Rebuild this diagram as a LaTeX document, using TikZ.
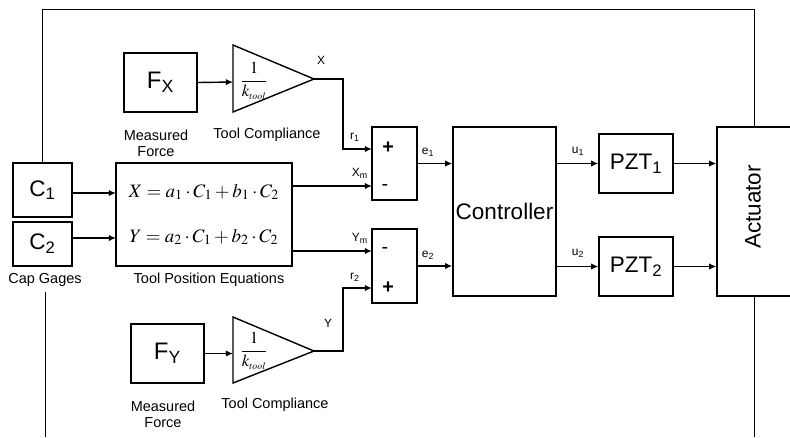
\documentclass[tikz,border=0pt]{standalone}
\usepackage{mathptmx}
\usepackage[no-math]{fontspec}
\setmainfont{Liberation Sans}
\usetikzlibrary{arrows.meta,calc}

\tikzset{
  blk/.style={draw,line width=1pt,inner sep=0pt,font=\fontsize{16}{19}\selectfont},
  sig/.style={line width=1pt,-{Latex[length=0.18cm,width=0.16cm]}},
  fb/.style={line width=0.5pt},
  desc/.style={align=center,font=\fontsize{10.3}{11.4}\selectfont},
  sml/.style={font=\fontsize{8.5}{10}\selectfont,inner sep=0pt},
  sgn/.style={font=\fontsize{14}{16}\selectfont,inner sep=0pt}
}

\begin{document}
\begin{tikzpicture}[x=0.025cm,y=-0.025cm]
\useasboundingbox (0,0) rectangle (790,437);

	% cap gages and equations
	\node[blk,minimum width=1.475cm,minimum height=1.35cm] (C1) at (42.5,190) {C\textsubscript{1}};
	\node[blk,minimum width=1.475cm,minimum height=1.1cm] (C2) at (42.5,244) {C\textsubscript{2}};
	\node[desc] (capg) at (45,280) {Cap Gages};
	\node[blk,minimum width=4.4cm,minimum height=2.575cm,align=center,font=\fontsize{13.5}{32}\selectfont] (eq) at (204,214.5)
		{$X = a_1\cdot C_1 + b_1\cdot C_2$\\$Y = a_2\cdot C_1 + b_2\cdot C_2$};
	\node[desc] (tpe) at (209,280) {Tool Position Equations};
	\coordinate (eqX) at (116,193);
	\coordinate (eqY) at (116,238);
	\draw[sig] (C1.east |- eqX) -- (eqX);
	\draw[sig] (C2.east |- eqY) -- (eqY);

	% force X path
	\node[blk,minimum width=1.825cm,minimum height=1.475cm,font=\fontsize{17}{20}\selectfont] (FX) at (160.5,82.5) {F\textsubscript{X}};
	\node[desc] (mf1) at (156,143) {Measured\\Force};
	\draw[line width=1pt] (233,45) -- (314,79) -- (233,112) -- cycle;
	\coordinate (t1in) at (233,82);
	\coordinate (t1out) at (314,79);
	\node[font=\fontsize{12}{14}\selectfont] (k1) at (254,81) {$\displaystyle\frac{1}{k_{\scriptscriptstyle tool}}$};
	\node[desc] (tc1) at (267,135) {Tool Compliance};
	\draw[sig] (FX.east) -- (t1in);

	% force Y path
	\node[blk,minimum width=1.825cm,minimum height=1.475cm,font=\fontsize{17}{20}\selectfont] (FY) at (167.5,353.5) {F\textsubscript{Y}};
	\node[desc] (mf2) at (163,414) {Measured\\Force};
	\draw[line width=1pt] (233,317) -- (314,351) -- (233,383) -- cycle;
	\coordinate (t2in) at (233,353.5);
	\coordinate (t2out) at (314,351);
	\node[font=\fontsize{12}{14}\selectfont] (k2) at (254,351) {$\displaystyle\frac{1}{k_{\scriptscriptstyle tool}}$};
	\node[desc] (tc2) at (275,405) {Tool Compliance};
	\draw[sig] (FY.east) -- (t2in);

	% summing junctions
	\node[blk,minimum width=1.125cm,minimum height=1.825cm] (s1) at (394.5,163.5) {};
	\node[blk,minimum width=1.125cm,minimum height=1.85cm] (s2) at (394.5,266) {};
	\node[sgn] (p1) at (388,148) {\textbf{+}};
	\node[sgn] (m1) at (385,187) {-};
	\node[sgn] (m2) at (385,250) {-};
	\node[sgn] (p2) at (388,288) {\textbf{+}};
	\coordinate (s1a) at (372,149);
	\coordinate (s1b) at (372,186);
	\coordinate (s2a) at (372,251);
	\coordinate (s2b) at (372,288);
	\draw[sig] (t1out) -- ++(29,0) |- (s1a);
	\draw[sig] (eq.east |- s1b) -- (s1b);
	\draw[sig] (eq.east |- s2a) -- (s2a);
	\draw[sig] (t2out) -- ++(29,0) |- (s2b);
	\node[sml] (lX) at (321,60) {X};
	\node[sml] (lr1) at (355,137) {r\textsubscript{1}};
	\node[sml] (lXm) at (360,173) {X\textsubscript{m}};
	\node[sml] (lYm) at (360,238) {Y\textsubscript{m}};
	\node[sml] (lr2) at (355,277) {r\textsubscript{2}};
	\node[sml] (lY) at (328,323) {Y};

	% controller, PZTs, actuator
	\node[blk,minimum width=2.575cm,minimum height=4.225cm] (ctrl) at (504.5,211.5) {Controller};
	\node[blk,minimum width=1.85cm,minimum height=1.475cm] (pzt1) at (636,163.5) {PZT\textsubscript{1}};
	\node[blk,minimum width=1.85cm,minimum height=1.475cm] (pzt2) at (636,266.5) {PZT\textsubscript{2}};
	\node[blk,minimum width=1.85cm,minimum height=4.225cm] (act) at (754,211.5) {};
	\node[rotate=90,font=\fontsize{16}{19}\selectfont] (actl) at (753,207) {Actuator};
	\draw[sig] (s1.east) -- (s1.east -| ctrl.west);
	\draw[sig] (s2.east) -- (s2.east -| ctrl.west);
	\draw[sig] (ctrl.east |- pzt1) -- (pzt1.west);
	\draw[sig] (ctrl.east |- pzt2) -- (pzt2.west);
	\draw[sig] (pzt1.east) -- (pzt1.east -| act.west);
	\draw[sig] (pzt2.east) -- (pzt2.east -| act.west);
	\node[sml] (le1) at (428,152) {e\textsubscript{1}};
	\node[sml] (le2) at (428,255) {e\textsubscript{2}};
	\node[sml] (lu1) at (578,151) {u\textsubscript{1}};
	\node[sml] (lu2) at (578,253) {u\textsubscript{2}};

	% feedback lines
	\coordinate (bot) at (0,437);
	\draw[fb] (C1.north) -- (C1.north |- 0,9.5) -| (act.north);
	\draw[fb] (capg.south) -- (capg.south |- bot);
	\draw[fb] (act.south) -- (act.south |- bot);
\end{tikzpicture}
\end{document}
